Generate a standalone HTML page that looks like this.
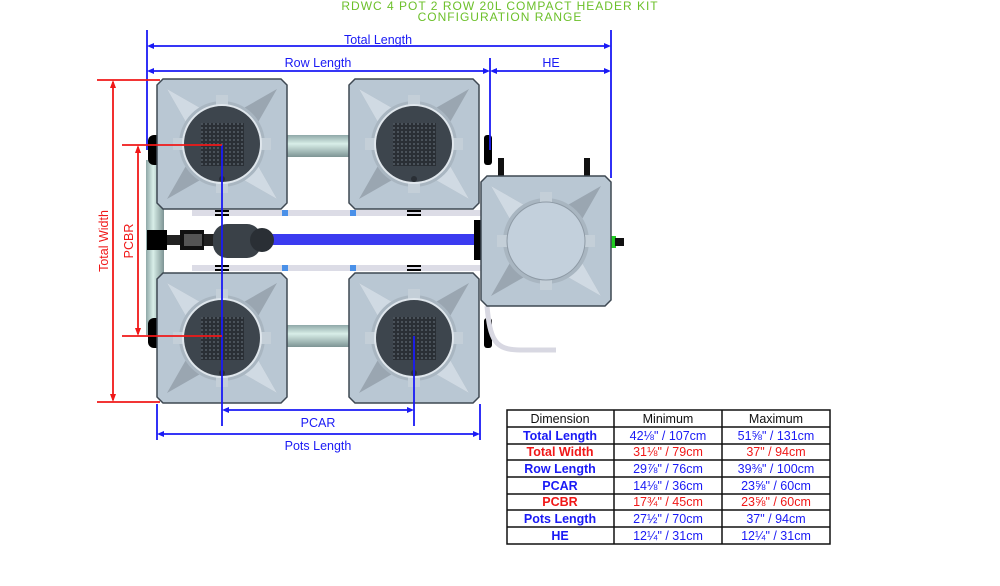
<!DOCTYPE html>
<html><head><meta charset="utf-8"><style>
html,body{margin:0;padding:0;background:#fff;width:1000px;height:586px;overflow:hidden}
svg{display:block}
text{font-family:"Liberation Sans",sans-serif}
</style></head><body>
<svg width="1000" height="586" viewBox="0 0 1000 586" xmlns="http://www.w3.org/2000/svg">
<defs>
<pattern id="grid" width="4" height="4" patternUnits="userSpaceOnUse">
<rect width="4" height="4" fill="#2a2f35"/><rect width="2" height="2" fill="#4a525a"/>
</pattern>
<linearGradient id="pipeH" x1="0" y1="0" x2="0" y2="1">
<stop offset="0" stop-color="#8fa8a8"/><stop offset="0.4" stop-color="#d8eee8"/><stop offset="1" stop-color="#7d9494"/>
</linearGradient>
<linearGradient id="pipeV" x1="0" y1="0" x2="1" y2="0">
<stop offset="0" stop-color="#8fa8a8"/><stop offset="0.4" stop-color="#d8eee8"/><stop offset="1" stop-color="#7d9494"/>
</linearGradient>
<g id="potbody">
<path d="M6,0 H124 L130,6 V124 L124,130 H6 L0,124 V6 Z" fill="#b9c7d3" stroke="#3e4852" stroke-width="1.5"/>
<path d="M10,10 L45,30 L65,22 L85,30 L120,10 L100,45 L108,65 L100,85 L120,120 L85,100 L65,108 L45,100 L10,120 L30,85 L22,65 L30,45 Z" fill="#9aa6b1"/>
<path d="M10,10 L45,30 L30,45 Z M120,120 L85,100 L100,85 Z" fill="#d0dae3"/>
<circle cx="65" cy="65" r="43" fill="#a9b6c1"/>
<rect x="59" y="16" width="12" height="14" fill="#c4cfd8"/>
<rect x="59" y="100" width="12" height="14" fill="#c4cfd8"/>
<rect x="16" y="59" width="14" height="12" fill="#c4cfd8"/>
<rect x="100" y="59" width="14" height="12" fill="#c4cfd8"/>
</g>
<g id="pot">
<use href="#potbody"/>
<circle cx="65" cy="65" r="40" fill="#dfe6ec"/>
<circle cx="65" cy="65" r="38" fill="#3d454d"/>
<rect x="44" y="44" width="43" height="43" fill="url(#grid)"/>
<circle cx="65" cy="100" r="3" fill="#2a2f35"/>
</g>
</defs>

<text x="500" y="10" font-size="12" fill="#6cc02a" text-anchor="middle" letter-spacing="1">RDWC 4 POT 2 ROW 20L COMPACT HEADER KIT</text>
<text x="500" y="21" font-size="12" fill="#6cc02a" text-anchor="middle" letter-spacing="1">CONFIGURATION RANGE</text>

<rect x="280" y="135" width="75" height="22" fill="url(#pipeH)"/>
<rect x="280" y="325" width="75" height="22" fill="url(#pipeH)"/>
<rect x="146" y="160" width="18" height="175" fill="url(#pipeV)"/>
<rect x="148" y="135" width="14" height="30" rx="6" fill="#000"/>
<rect x="148" y="318" width="14" height="30" rx="6" fill="#000"/>
<rect x="484" y="135" width="8" height="30" rx="3" fill="#000"/>
<rect x="484" y="318" width="8" height="30" rx="3" fill="#000"/>
<rect x="192" y="210" width="290" height="6" fill="#dcdce6"/>
<rect x="192" y="265" width="290" height="6" fill="#dcdce6"/>
<rect x="282" y="210" width="6" height="6" fill="#4a90e8"/><rect x="350" y="210" width="6" height="6" fill="#4a90e8"/>
<rect x="282" y="265" width="6" height="6" fill="#4a90e8"/><rect x="350" y="265" width="6" height="6" fill="#4a90e8"/>
<rect x="215" y="210" width="14" height="2" fill="#000"/><rect x="215" y="214" width="14" height="2" fill="#000"/>
<rect x="407" y="210" width="14" height="2" fill="#000"/><rect x="407" y="214" width="14" height="2" fill="#000"/>
<rect x="215" y="265" width="14" height="2" fill="#000"/><rect x="215" y="269" width="14" height="2" fill="#000"/>
<rect x="407" y="265" width="14" height="2" fill="#000"/><rect x="407" y="269" width="14" height="2" fill="#000"/>
<rect x="265" y="234" width="217" height="11" fill="#3b3bf0"/>
<rect x="474" y="220" width="10" height="40" fill="#000"/>
<rect x="147" y="230" width="20" height="20" fill="#000"/>
<rect x="167" y="235" width="15" height="10" fill="#222"/>
<rect x="180" y="230" width="24" height="20" fill="#111"/>
<rect x="184" y="234" width="18" height="12" fill="#555"/>
<rect x="204" y="234" width="10" height="12" fill="#222"/>
<rect x="213" y="224" width="48" height="34" rx="14" fill="#3a4148"/>
<circle cx="262" cy="240" r="12" fill="#2a2f35"/>
<use href="#pot" x="157" y="79"/>
<use href="#pot" x="349" y="79"/>
<use href="#pot" x="157" y="273"/>
<use href="#pot" x="349" y="273"/>
<rect x="498" y="158" width="6" height="18" fill="#111"/><rect x="584" y="158" width="6" height="18" fill="#111"/>
<rect x="611" y="236" width="5" height="12" fill="#2c2"/><rect x="615" y="238" width="9" height="8" fill="#111"/>
<path d="M487,306 C490,340 495,350 520,350 L556,350" stroke="#d8d8e2" stroke-width="5" fill="none"/>
<g transform="translate(481,176)">
<use href="#potbody"/>
<circle cx="65" cy="65" r="39" fill="#c3d0dc" stroke="#8e9aa5"/>
</g>

<g stroke="#1a1af5" stroke-width="1.8" fill="#1a1af5">
<line x1="147" y1="30" x2="147" y2="150"/>
<line x1="611" y1="30" x2="611" y2="178"/>
<line x1="490" y1="58" x2="490" y2="150"/>
<line x1="150" y1="46" x2="608" y2="46"/>
<line x1="150" y1="71" x2="487" y2="71"/>
<line x1="493" y1="71" x2="608" y2="71"/>
<line x1="157" y1="404" x2="157" y2="440"/>
<line x1="480" y1="404" x2="480" y2="440"/>
<line x1="160" y1="434" x2="477" y2="434"/>
<line x1="222" y1="145" x2="222" y2="426"/>
<line x1="414" y1="336" x2="414" y2="426"/>
<line x1="225" y1="410" x2="411" y2="410"/>
</g>
<g fill="#1a1af5">
<path d="M147,46 l7,-3 v6z"/><path d="M611,46 l-7,-3 v6z"/>
<path d="M147,71 l7,-3 v6z"/><path d="M490,71 l-7,-3 v6z"/>
<path d="M490,71 l7,-3 v6z"/><path d="M611,71 l-7,-3 v6z"/>
<path d="M157,434 l7,-3 v6z"/><path d="M480,434 l-7,-3 v6z"/>
<path d="M222,410 l7,-3 v6z"/><path d="M414,410 l-7,-3 v6z"/>
</g>
<g font-size="12.5" fill="#1a1af5" text-anchor="middle">
<text x="378" y="44">Total Length</text>
<text x="318" y="67">Row Length</text>
<text x="551" y="67">HE</text>
<text x="318" y="427">PCAR</text>
<text x="318" y="450">Pots Length</text>
</g>
<g stroke="#f01818" stroke-width="1.8">
<line x1="97" y1="80" x2="160" y2="80"/>
<line x1="97" y1="402" x2="160" y2="402"/>
<line x1="113" y1="82" x2="113" y2="400"/>
<line x1="122" y1="145" x2="222" y2="145"/>
<line x1="122" y1="336" x2="222" y2="336"/>
<line x1="138" y1="147" x2="138" y2="334"/>
</g>
<g fill="#f01818">
<path d="M113,80 l-3,8 h6z"/><path d="M113,402 l-3,-8 h6z"/>
<path d="M138,145 l-3,8 h6z"/><path d="M138,336 l-3,-8 h6z"/>
</g>
<g font-size="12.5" fill="#f01818" text-anchor="middle">
<text transform="translate(108,241) rotate(-90)">Total Width</text>
<text transform="translate(133,241) rotate(-90)">PCBR</text>
</g>

<g stroke="#111" stroke-width="1.5" fill="none">
<rect x="507" y="410" width="323" height="134"/>
<line x1="614" y1="410" x2="614" y2="544"/>
<line x1="722" y1="410" x2="722" y2="544"/>
<line x1="507" y1="427" x2="830" y2="427"/>
<line x1="507" y1="444" x2="830" y2="444"/>
<line x1="507" y1="460" x2="830" y2="460"/>
<line x1="507" y1="477" x2="830" y2="477"/>
<line x1="507" y1="494" x2="830" y2="494"/>
<line x1="507" y1="510" x2="830" y2="510"/>
<line x1="507" y1="527" x2="830" y2="527"/>
</g>
<g font-size="12.5" text-anchor="middle">
<text x="560" y="423" fill="#111">Dimension</text><text x="668" y="423" fill="#111">Minimum</text><text x="776" y="423" fill="#111">Maximum</text>
<g font-weight="bold" fill="#1a1af5">
<text x="560" y="440">Total Length</text>
<text x="560" y="473">Row Length</text>
<text x="560" y="490">PCAR</text>
<text x="560" y="523">Pots Length</text>
<text x="560" y="540">HE</text>
</g>
<g font-weight="bold" fill="#f01818">
<text x="560" y="456">Total Width</text>
<text x="560" y="506">PCBR</text>
</g>
<g fill="#1a1af5">
<text x="668" y="440">42⅛" / 107cm</text><text x="776" y="440">51⅝" / 131cm</text>
<text x="668" y="473">29⅞" / 76cm</text><text x="776" y="473">39⅜" / 100cm</text>
<text x="668" y="490">14⅛" / 36cm</text><text x="776" y="490">23⅝" / 60cm</text>
<text x="668" y="523">27½" / 70cm</text><text x="776" y="523">37" / 94cm</text>
<text x="668" y="540">12¼" / 31cm</text><text x="776" y="540">12¼" / 31cm</text>
</g>
<g fill="#f01818">
<text x="668" y="456">31⅛" / 79cm</text><text x="776" y="456">37" / 94cm</text>
<text x="668" y="506">17¾" / 45cm</text><text x="776" y="506">23⅝" / 60cm</text>
</g>
</g>
</svg>
</body></html>
